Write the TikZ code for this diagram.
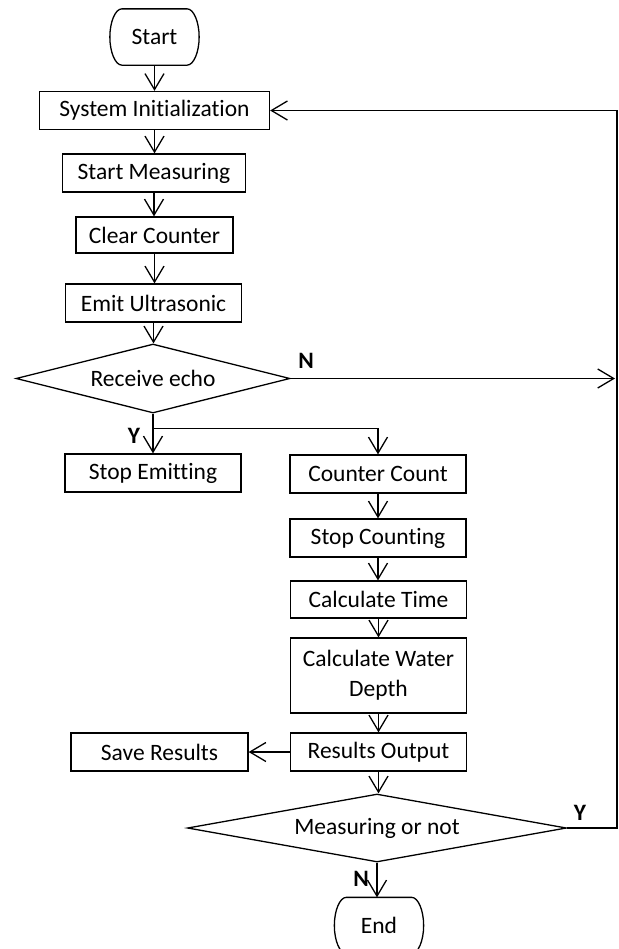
\documentclass[tikz,border=0pt]{standalone}
\usepackage{fontspec}
\setmainfont{Carlito}[Ligatures=NoCommon]
\usetikzlibrary{arrows.meta, shapes.geometric}

\begin{document}
\begin{tikzpicture}[x=0.5pt, y=-0.5pt, >={Straight Barb[length=8pt, width=9.5pt]},
  line width=0.65pt, font=\fontsize{11.75}{15}\selectfont,
  box/.style={draw, rectangle, minimum height=19pt, inner sep=0pt, align=center},
  term/.style={rectangle, minimum width=44pt, minimum height=27.5pt, inner sep=0pt},
  decision/.style={draw, diamond, aspect=4, inner sep=0pt},
  lbl/.style={font=\fontsize{11.75}{15}\selectfont\bfseries}]
  \useasboundingbox (0,0) rectangle (619,949);

  \node[term] (start) at (154.5,37) {Start};
  \node[box, minimum width=115pt] (init) at (154.5,110.5) {System Initialization};
  \node[box, minimum width=91.5pt] (meas) at (154,173) {Start Measuring};
  \node[box, minimum width=78.5pt, minimum height=18pt] (clear) at (154.5,235) {Clear Counter};
  \node[box, minimum width=88pt] (emit) at (153.5,303) {Emit Ultrasonic};
  \node[decision, minimum width=137pt, minimum height=34.5pt] (echo) at (153,378.5) {Receive echo};
  \node[box, minimum width=88pt] (stope) at (153,473) {Stop Emitting};
  \node[box, minimum width=88pt] (count) at (378,474) {Counter Count};
  \node[box, minimum width=88pt] (stopc) at (378,538) {Stop Counting};
  \node[box, minimum width=88pt, minimum height=18.5pt] (time) at (378.5,599.5) {Calculate Time};
  \node[box, minimum width=88pt, minimum height=37.5pt] (depth) at (378.5,675.5) {Calculate Water\\Depth};
  \node[box, minimum width=88pt] (out) at (378.5,752) {Results Output};
  \node[box, minimum width=88.5pt] (save) at (159.5,752) {Save Results};
  \node[decision, minimum width=189.5pt, minimum height=34pt] (more) at (377,828) {Measuring or not};
  \node[term] (end) at (379,925.5) {End};

  \foreach \t in {start, end}
    \draw ([xshift=6pt]\t.north west) -- ([xshift=-6pt]\t.north east)
      .. controls ([xshift=-2.7pt]\t.north east) and ([yshift=7.5pt]\t.east) .. (\t.east)
      .. controls ([yshift=-7.5pt]\t.east) and ([xshift=-2.7pt]\t.south east) .. ([xshift=-6pt]\t.south east)
      -- ([xshift=6pt]\t.south west)
      .. controls ([xshift=2.7pt]\t.south west) and ([yshift=-7.5pt]\t.west) .. (\t.west)
      .. controls ([yshift=7.5pt]\t.west) and ([xshift=2.7pt]\t.north west) .. ([xshift=6pt]\t.north west)
      -- cycle;

  \foreach \a/\b in {start/init, init/meas, meas/clear, clear/emit, emit/echo,
                     count/stopc, stopc/time, time/depth, depth/out, out/more, more/end}
    \draw[->] (\a.south) -- (\a.south |- \b.north);

  \coordinate (rail) at (617,0);
  \draw[->, shorten >=1pt] (echo.east) -- (echo.east -| rail);
  \draw[->] (more.east) -- (more.east -| rail) |- (init.east);
  \draw (echo.south) -- ++(0,15) coordinate (split);
  \draw[->] (split) -- (split |- stope.north);
  \draw[->] (split) -| (count.north);
  \draw[->] (out.west) -- (save.east);

  \node[lbl] (n1) at (306,361) {N};
  \node[lbl] (y1) at (134,436) {Y};
  \node[lbl] (y2) at (580,813) {Y};
  \node[lbl] (n2) at (361,879) {N};
\end{tikzpicture}
\end{document}
